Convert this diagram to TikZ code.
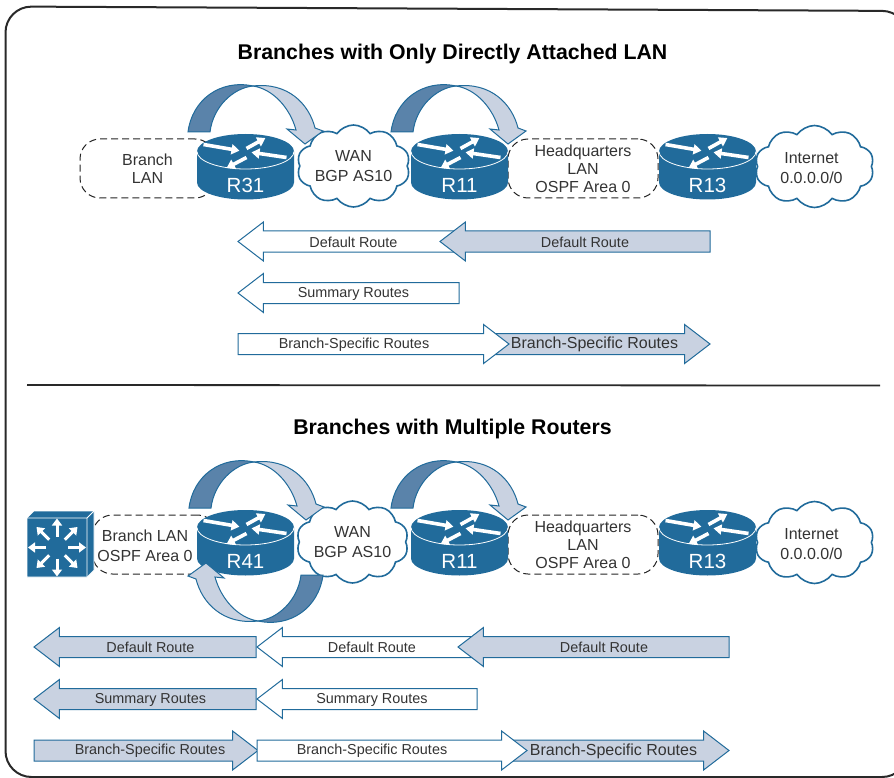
\documentclass[tikz,border=0pt]{standalone}
\usepackage{fontspec}
\setmainfont{Liberation Sans}
\usetikzlibrary{arrows.meta, shapes.symbols, shapes.arrows}

\definecolor{ciscoblue}{HTML}{216B9B}
\definecolor{bandblue}{HTML}{5A83AA}
\definecolor{paleblue}{HTML}{C9D2E1}
\definecolor{inkgray}{HTML}{333333}

\tikzset{
	pics/router/.style={code={
		\path[fill=ciscoblue] (-48.5,0) -- (-48.5,31) arc[start angle=180, end angle=0, x radius=48.5, y radius=17] -- (48.5,0) arc[start angle=0, end angle=-180, x radius=48.5, y radius=17.5] -- cycle;
		\draw[white, line width=.8] (-48.5,0) arc[start angle=180, end angle=0, x radius=48.5, y radius=17.5];
		\draw[routertip] (-42,-7) -- (-7,-1);
		\draw[routertip] (1,-3) -- (19,-13);
		\draw[routertip] (41,6) -- (7,1);
		\draw[routertip] (1,6) -- (-18,16);
		\node[routername] (-label) at (0,34) {#1};
	}},
	pics/bendarrow/.style={code={
		\draw[bandline, fill=bandblue] (0,0) .. controls (4,-32) and (32,-53) .. (65,-46) .. controls (45,-44) and (25,-25) .. (22,0) -- cycle;
		\draw[bandline, fill=paleblue] (65,-46) .. controls (100,-50) and (121,-28) .. (127,-4) -- (135,-1) -- (117,12) -- (99,-3) -- (108,-2) .. controls (102,-24) and (85,-43) .. (65,-46) -- cycle;
	}}
}

\begin{document}
\begin{tikzpicture}[x=1pt, y=-1pt,
	routertip/.style={white, line width=3.6, -{Triangle[length=8, width=10]}, shorten >=-1},
	routername/.style={text=white, font=\fontsize{20.5}{20.5}\selectfont, inner sep=0},
	bandline/.style={draw=ciscoblue, line width=1},
	lanbox/.style={draw=inkgray!70!black, dashed, dash pattern=on 7pt off 4pt, line width=1, rounded corners=20, align=center, text=inkgray, font=\fontsize{16}{18}\selectfont, minimum height=59, inner sep=0},
	wolk/.style={cloud, cloud puffs=10, cloud puff arc=110, cloud ignores aspect, draw=ciscoblue, line width=1.6, fill=white, align=center, text=inkgray, font=\fontsize{16}{20}\selectfont, minimum height=82, inner sep=0},
	wolktext/.style={align=center, text=inkgray, font=\fontsize{16}{20}\selectfont, inner sep=0},
	routearrow/.style={single arrow, draw=ciscoblue, line width=1, minimum width=38, single arrow head extend=9, single arrow tip angle=75, inner sep=10, outer sep=0, anchor=tip},
	whitearrow/.style={routearrow, fill=white},
	palearrow/.style={routearrow, fill=paleblue},
	leftward/.style={shape border rotate=180},
	routetext/.style={text=inkgray, font=\fontsize{14.4}{14.4}\selectfont, inner sep=0},
	bigtext/.style={text=inkgray, font=\fontsize{16}{16}\selectfont, inner sep=0},
	headline/.style={text=black, font=\bfseries\fontsize{21.3}{21.3}\selectfont, inner sep=0}]

	\useasboundingbox (0,0) rectangle (894,778);
	\clip (0,0) rectangle (894,778);

	% frame and divider
	\draw[inkgray!80!black, line width=2, rounded corners=26] (5.5,300) -- (5.5,6.5) -- (908,11) -- (908,777) -- (5.5,777) -- cycle;
	\draw[inkgray!80!black, line width=1.8] (27,385) -- (880,385.5);

	\node[headline] (T1) at (452.5,54) {Branches with Only Directly Attached LAN};
	\node[headline] (T2) at (452.5,429) {Branches with Multiple Routers};

	% upper network
	\node[lanbox, minimum width=135] (BL) at (147.5,168.5) {Branch\\LAN};
	\node[lanbox, minimum width=150] (HQ) at (583,168.5) {Headquarters\\LAN\\OSPF Area 0};
	\node[wolk, minimum width=113] (WAN) at (353.5,166) {WAN\\BGP AS10};
	\node[wolk, minimum width=119] (NET) at (814.5,166.5) {};
	\node[wolktext] (NETT) at (811.5,168.5) {Internet\\0.0.0.0/0};
	\pic (R31) at (245.5,151.5) {router=R31};
	\pic (R11) at (459.5,151.5) {router=R11};
	\pic (R13) at (707.5,151.5) {router=R13};
	\pic (B31) at (188,132) {bendarrow};
	\pic (B11) at (391,132) {bendarrow};

	\node[whitearrow, leftward, minimum height=222] (DW) at (238,241.5) {};
	\node[palearrow, leftward, minimum height=270] (DP) at (440,241.5) {};
	\node[routetext] (DWT) at (353.5,242) {Default Route};
	\node[routetext] (DPT) at (585,242) {Default Route};

	\node[whitearrow, leftward, minimum height=221] (SW) at (238,293) {};
	\node[routetext] (SWT) at (353.5,293.5) {Summary Routes};

	\node[palearrow, minimum height=225] (BP) at (710,344) {};
	\node[whitearrow, minimum height=271] (BW) at (509,344) {};
	\node[routetext] (BWT) at (354,344.5) {Branch-Specific Routes};
	\node[bigtext] (BPT) at (594.5,344.5) {Branch-Specific Routes};

	% lower network
	\node[lanbox, minimum width=125] (BL2) at (155,544.5) {};
	\node[wolktext, font=\fontsize{16}{19.5}\selectfont] (BL2T) at (145,546) {Branch LAN\\OSPF Area 0};
	\node[lanbox, minimum width=150] (HQ2) at (583,544.5) {Headquarters\\LAN\\OSPF Area 0};
	\node[wolk, minimum width=112] (WAN2) at (352.5,542) {WAN\\BGP AS10};
	\node[wolk, minimum width=119] (NET2) at (814.5,542.5) {};
	\node[wolktext] (NET2T) at (811.5,544.5) {Internet\\0.0.0.0/0};

	\path[fill=ciscoblue, draw=white, line width=.6] (27,518) -- (34,511) -- (94,511) -- (94,570) -- (87,577) -- (27,577) -- cycle;
	\draw[white, line width=.8] (27,518) -- (87,518) -- (87,577) (87,518) -- (94,511);
	\foreach \ang in {0,45,...,315}
		\draw[white, line width=3, -{Triangle[length=7, width=10]}, shorten >=-1] (57,547.5) ++(\ang:11) -- ++(\ang:17);

	\pic (R41) at (245.5,527.5) {router=R41};
	\pic (R12) at (459.5,527.5) {router=R11};
	\pic (R14) at (707.5,527.5) {router=R13};
	\pic (B41) at (189,508) {bendarrow};
	\pic (B12) at (391,508) {bendarrow};
	\pic[rotate=180] (B42) at (323,575) {bendarrow};

	\node[palearrow, leftward, minimum height=222] (DA) at (34,647) {};
	\node[whitearrow, leftward, minimum height=222] (DB) at (257,647) {};
	\node[palearrow, leftward, minimum height=271] (DC) at (458,647) {};
	\node[routetext] (DAT) at (150.5,647.5) {Default Route};
	\node[routetext] (DBT) at (372,647.5) {Default Route};
	\node[routetext] (DCT) at (604,647.5) {Default Route};

	\node[palearrow, leftward, minimum height=222] (SA) at (34,699) {};
	\node[whitearrow, leftward, minimum height=220] (SB) at (257,699) {};
	\node[routetext] (SAT) at (150.5,699.5) {Summary Routes};
	\node[routetext] (SBT) at (372,699.5) {Summary Routes};

	\node[palearrow, minimum height=224] (BC) at (729,750.5) {};
	\node[palearrow, minimum height=224] (BA) at (258,750.5) {};
	\node[whitearrow, minimum height=270] (BB) at (527,750.5) {};
	\node[routetext] (BAT) at (150,751) {Branch-Specific Routes};
	\node[routetext] (BBT) at (372,751) {Branch-Specific Routes};
	\node[bigtext] (BCT) at (613.5,751) {Branch-Specific Routes};
\end{tikzpicture}
\end{document}
